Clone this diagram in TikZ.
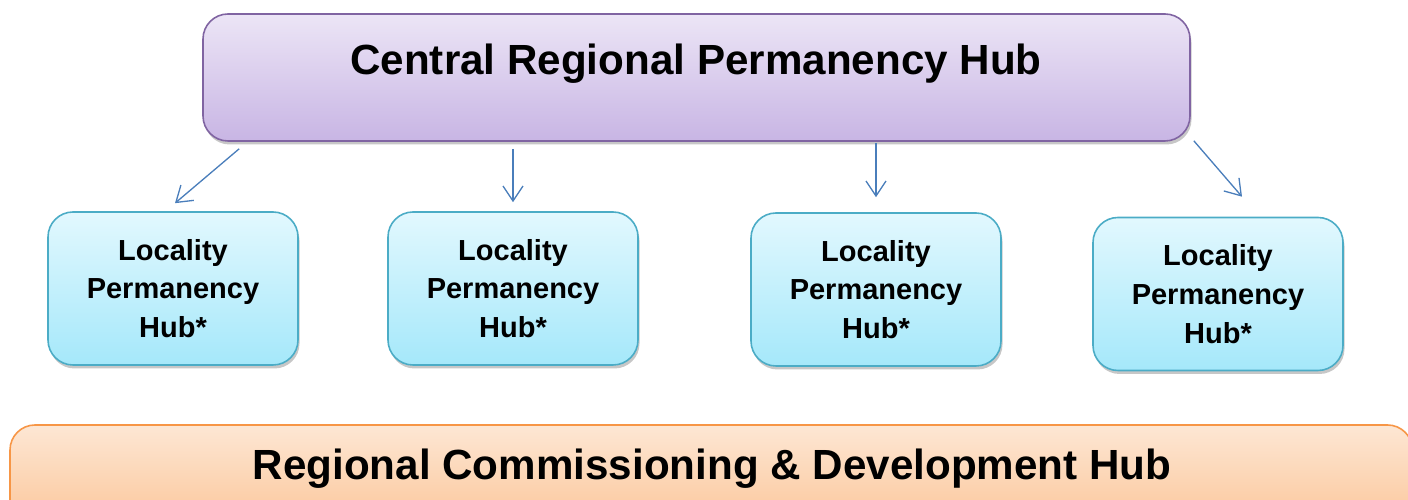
\documentclass[tikz,border=0pt]{standalone}
\usepackage{fontspec}
\setmainfont{Liberation Sans}
\usepackage{xcolor}
\usetikzlibrary{positioning}
\usetikzlibrary{arrows.meta}
\usetikzlibrary{shadows}
\definecolor{purpletop}{RGB}{236,229,246}
\definecolor{purplebot}{RGB}{200,181,228}
\definecolor{purpleline}{RGB}{128,100,162}
\definecolor{cyantop}{RGB}{226,248,254}
\definecolor{cyanbot}{RGB}{165,232,250}
\definecolor{cyanline}{RGB}{75,172,198}
\definecolor{orangetop}{RGB}{253,231,212}
\definecolor{orangebot}{RGB}{251,190,140}
\definecolor{orangeline}{RGB}{247,150,70}
\definecolor{arrowblue}{RGB}{74,126,187}
\tikzset{
  hubshadow/.style={drop shadow={shadow xshift=0.03cm, shadow yshift=-0.07cm, fill=black, opacity=0.22}},
  centralbox/.style={draw=purpleline, line width=0.9pt, rounded corners=0.5cm, top color=purpletop, bottom color=purplebot, hubshadow},
  localbox/.style={draw=cyanline, line width=0.9pt, rounded corners=0.5cm, top color=cyantop, bottom color=cyanbot, hubshadow,
    minimum width=5cm, minimum height=3.06cm, align=center, font=\fontsize{16.5}{22.1}\selectfont\bfseries},
  regionbox/.style={draw=orangeline, line width=0.9pt, rounded corners=0.5cm, top color=orangetop, bottom color=orangebot, hubshadow},
  bigtext/.style={font=\fontsize{24}{29}\selectfont\bfseries, anchor=base},
  arr/.style={draw=arrowblue, line width=0.75pt, -{Straight Barb[length=0.3cm, width=0.4cm]}}
}
\begin{document}
\begin{tikzpicture}
            \useasboundingbox (0,0) rectangle (28.16,10);
            \clip (0,0) rectangle (28.16,10);
            % Top hub
            \node (central) [centralbox, minimum width=19.74cm, minimum height=2.54cm] at (13.93,8.45) {};
            \node (centraltext) [bigtext] at (13.92,8.5) {Central Regional Permanency Hub};
            % Locality hubs
            \node (loc1) [localbox] at (3.46,4.23) {Locality\\Permanency\\Hub*};
            \node (loc2) [localbox] at (10.26,4.23) {Locality\\Permanency\\Hub*};
            \node (loc3) [localbox] at (17.52,4.21) {Locality\\Permanency\\Hub*};
            \node (loc4) [localbox] at (24.36,4.12) {Locality\\Permanency\\Hub*};
            % Arrows down
            \draw [arr] ([xshift=0.74cm, yshift=-0.14cm]central.south west) -- ([xshift=0.04cm, yshift=0.16cm]loc1.north);
            \draw [arr] ([yshift=-0.14cm]central.south -| loc2.north) -- ([yshift=0.18cm]loc2.north);
            \draw [arr] ([yshift=-0.02cm]central.south -| loc3.north) -- ([yshift=0.3cm]loc3.north);
            \draw [arr] ([xshift=0.06cm, yshift=0.02cm]central.south east) -- ([xshift=0.48cm, yshift=0.4cm]loc4.north);
            % Bottom hub
            \node (region) [regionbox, minimum width=28.05cm, minimum height=2.5cm] at (14.225,0.25) {};
            \node (regiontext) [bigtext] at (14.24,0.4) {Regional Commissioning \& Development Hub};
\end{tikzpicture}
\end{document}
